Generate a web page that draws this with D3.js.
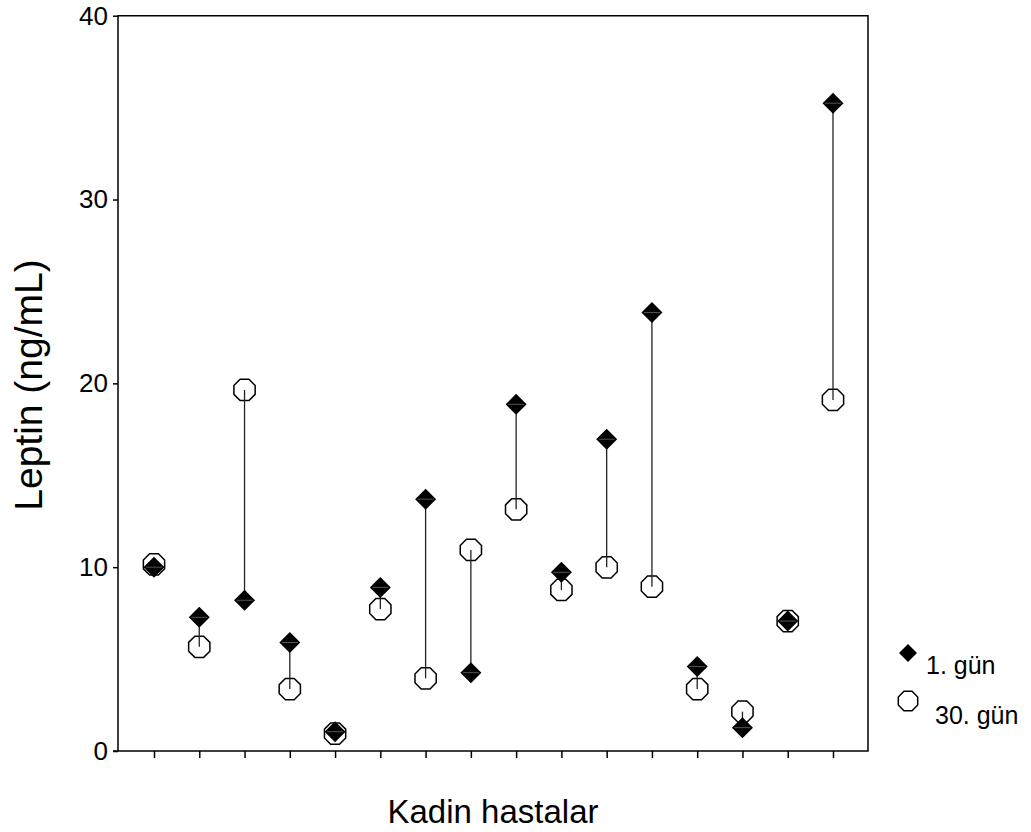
<!DOCTYPE html>
<html>
<head>
<meta charset="utf-8">
<script src="https://cdn.jsdelivr.net/npm/d3@7"></script>
<style>
  body { margin: 0; background: #fff; }
  text { font-family: "Liberation Sans", Arial, sans-serif; fill: #000; }
</style>
</head>
<body>
<div id="chart"></div>
<script>
// patients 1..16, leptin values (ng/mL)
const patients = d3.range(1, 17);
const day1 = [10.0, 7.27, 8.2, 5.9, 1.05, 8.9, 13.7, 4.26, 18.86, 9.72, 16.96, 23.85, 4.59, 1.27, 7.07, 35.24];
const day30 = [10.15, 5.67, 19.64, 3.37, 0.95, 7.72, 3.95, 10.94, 13.15, 8.76, 9.99, 8.94, 3.37, 2.14, 7.07, 19.1];
const yTicks = [0, 10, 20, 30, 40];
const seriesNames = ["1. gün", "30. gün"];

function drawChart(id) {
    const width = 1031, height = 832;
    const margin = { top: 15.7, right: 163, bottom: 81, left: 118 };

    const svg = d3.select(id).append("svg")
        .attr("width", width)
        .attr("height", height);

    const x = d3.scaleLinear().domain([1, 16])
        .range([154, 833]);
    const y = d3.scaleLinear().domain([0, 40])
        .range([height - margin.bottom, margin.top]);

    const x0 = margin.left, x1 = width - margin.right;
    const y0 = height - margin.bottom, y1 = margin.top;

    // octagon for 30. gün
    const octagon = r => d3.line()(d3.range(8).map(k => {
        const a = Math.PI / 8 + k * Math.PI / 4;
        return [r * Math.cos(a), r * Math.sin(a)];
    })) + "Z";
    const diamond = r => `M0,${-r}L${r},0L0,${r}L${-r},0Z`;

    // frame
    svg.append("path")
        .attr("d", `M${x0},${y0}V${y1}H${x1}V${y0}H${x0 - 5}`)
        .attr("fill", "none")
        .attr("stroke", "#000")
        .attr("stroke-width", 1.5);

    // y axis
    svg.append("g")
        .attr("transform", `translate(${x0},0)`)
        .call(d3.axisLeft(y).tickValues(yTicks).tickSize(5).tickPadding(5).tickSizeOuter(0))
        .call(g => g.select(".domain").remove())
        .call(g => g.selectAll("line").attr("stroke-width", 1.5))
        .call(g => g.selectAll("text").attr("font-size", 26).attr("font-family", "Liberation Sans, Arial, sans-serif"));

    // x axis ticks (no labels)
    svg.append("g")
        .attr("transform", `translate(0,${y0})`)
        .call(d3.axisBottom(x).tickValues(patients).tickSize(7).tickFormat("").tickSizeOuter(0))
        .call(g => g.select(".domain").remove())
        .call(g => g.selectAll("line").attr("stroke-width", 1.5));

    // circles (30. gün)
    svg.append("g").selectAll("path")
        .data(patients)
        .join("path")
        .attr("transform", (d, i) => `translate(${x(d)},${y(day30[i])})`)
        .attr("d", octagon(11.5))
        .attr("fill", "#fff")
        .attr("stroke", "#000")
        .attr("stroke-width", 1.5);

    // connecting lines
    svg.append("g").selectAll("line")
        .data(patients)
        .join("line")
        .attr("x1", d => x(d))
        .attr("x2", d => x(d))
        .attr("y1", (d, i) => y(day1[i]))
        .attr("y2", (d, i) => y(day30[i]))
        .attr("stroke", "#222")
        .attr("stroke-width", 1.3);

    // diamonds (1. gün)
    const dia = svg.append("g").selectAll("g")
        .data(patients)
        .join("g")
        .attr("transform", (d, i) => `translate(${x(d)},${y(day1[i])})`);
    dia.append("path")
        .attr("d", diamond(10.5))
        .attr("fill", "#000");
    dia.append("line")
        .attr("x1", -8).attr("x2", 8)
        .attr("stroke", "#555")
        .attr("stroke-width", 1);

    // axis titles
    svg.append("text")
        .attr("transform", `translate(42,385) rotate(-90)`)
        .attr("text-anchor", "middle")
        .attr("font-size", 39)
        .text("Leptin (ng/mL)");

    svg.append("text")
        .attr("x", (x0 + x1) / 2)
        .attr("y", 823)
        .attr("text-anchor", "middle")
        .attr("font-size", 33)
        .text("Kadin hastalar");

    // legend
    const legend = svg.append("g");
    legend.append("path")
        .attr("transform", "translate(908,653)")
        .attr("d", diamond(9))
        .attr("fill", "#000");
    legend.append("path")
        .attr("transform", "translate(908,701)")
        .attr("d", octagon(10.5))
        .attr("fill", "#fff")
        .attr("stroke", "#000")
        .attr("stroke-width", 1.5);
    legend.selectAll("text")
        .data(seriesNames)
        .join("text")
        .attr("x", (d, i) => i === 0 ? 926 : 935)
        .attr("y", (d, i) => i === 0 ? 674 : 724)
        .attr("font-size", 25)
        .text(d => d);
}

drawChart("#chart");
</script>
</body>
</html>
